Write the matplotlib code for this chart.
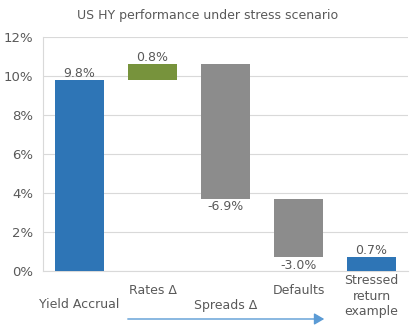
import matplotlib
matplotlib.use("Agg")
import matplotlib.pyplot as plt
from matplotlib.ticker import FuncFormatter
from matplotlib.patches import FancyArrowPatch

categories = ["Yield Accrual", "Rates Δ", "Spreads Δ", "Defaults", "Stressed\nreturn\nexample"]
changes = [9.8, 0.8, -6.9, -3.0, 0.7]
is_total = [True, False, False, False, True]
colors = ["#2E75B6", "#77933C", "#8C8C8C", "#8C8C8C", "#2E75B6"]
yticks = [0, 2, 4, 6, 8, 10, 12]

fig = plt.figure(figsize=(4.16, 3.29), dpi=100)
ax = fig.add_axes([43/416, 1 - 271/329, 365/416, 234/329])

txt = "#595959"
running = 0.0
for i, (c, total) in enumerate(zip(changes, is_total)):
    if total:
        bottom, top = 0.0, c
        if i == 0:
            running = c
    else:
        bottom, top = running, running + c
        running = top
    lo, hi = min(bottom, top), max(bottom, top)
    ax.bar(i, hi - lo, bottom=lo, width=0.66, color=colors[i], zorder=3)
    label = f"{c:.1f}%"
    if c >= 0:
        ax.text(i, hi + 0.02, label, ha="center", va="bottom", fontsize=9, color=txt)
    else:
        ax.text(i, lo - 0.08, label, ha="center", va="top", fontsize=9, color=txt)

ax.set_xlim(-0.5, 4.5)
ax.set_ylim(0, 12)
ax.set_yticks(yticks)
ax.yaxis.set_major_formatter(FuncFormatter(lambda v, p: f"{v:.0f}%"))
ax.tick_params(axis="y", length=0, labelsize=9.5, labelcolor=txt, pad=7)
ax.set_xticks([])
ax.grid(axis="y", color="#D9D9D9", linewidth=0.8, zorder=0)
for s in ["top", "right"]:
    ax.spines[s].set_visible(False)
ax.spines["left"].set_color("#D9D9D9")
ax.spines["bottom"].set_color("#D9D9D9")

# staggered category labels
label_y = [305, 291, 305, 291, 296]
for i, (cat, yp) in enumerate(zip(categories, label_y)):
    fig.text((43 + (i + 0.5) * 73) / 416, 1 - yp / 329, cat, ha="center", va="center",
             fontsize=9, color=txt, linespacing=1.2)

fig.patches.append(FancyArrowPatch(
    (125/416, 1 - 319/329), (327/416, 1 - 319/329), transform=fig.transFigure,
    arrowstyle="-|>,head_length=6,head_width=3.5", color="#5B9BD5", linewidth=1, mutation_scale=1))

fig.text(0.5, 1 - 15/329, "US HY performance under stress scenario", ha="center", va="center",
         fontsize=9, color=txt)

fig.savefig("out.png", dpi=100, facecolor="white")
